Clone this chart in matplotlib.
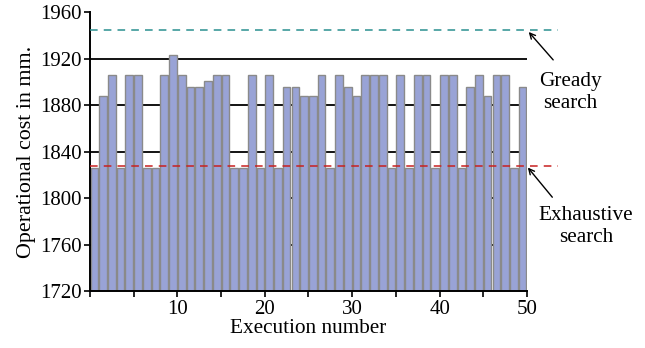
import matplotlib
matplotlib.use("Agg")
import matplotlib.pyplot as plt
import numpy as np

plt.rcParams['font.family'] = ['Liberation Serif', 'DejaVu Serif']

executions = list(range(1, 51))
costs = [1826, 1888, 1906, 1826, 1906, 1906, 1826, 1826, 1906, 1923,
         1906, 1896, 1896, 1901, 1906, 1906, 1826, 1826, 1906, 1826,
         1906, 1826, 1896, 1896, 1888, 1888, 1906, 1826, 1906, 1896,
         1888, 1906, 1906, 1906, 1826, 1906, 1826, 1906, 1906, 1826,
         1906, 1906, 1826, 1896, 1906, 1888, 1906, 1906, 1826, 1896]
greedy_cost = 1945
exhaustive_cost = 1828
y_ticks = [1720, 1760, 1800, 1840, 1880, 1920, 1960]
x_tick_labels = [10, 20, 30, 40, 50]

fig = plt.figure(figsize=(6.45, 3.48), dpi=100)
ax = fig.add_axes([0.1395, 0.1624, 0.6775, 0.8026])

for g in [1760, 1800, 1840, 1880, 1920]:
    ax.axhline(g, color='black', lw=1.3, zorder=0)

x = np.array(executions) - 0.5
ax.bar(x, np.array(costs) - 1720, bottom=1720, width=0.88,
       color='#99a3d6', edgecolor='#8a8a8a', linewidth=1.0, zorder=2)

ax.plot([0, 53.5], [greedy_cost, greedy_cost], color='#2a9090', lw=1.1,
        dashes=(5, 4), clip_on=False, zorder=3)
ax.plot([0, 53.5], [exhaustive_cost, exhaustive_cost], color='#c82020', lw=1.1,
        dashes=(5, 4), clip_on=False, zorder=3)

ax.set_xlim(0, 50)
ax.set_ylim(1720, 1960)
ax.set_yticks(y_ticks)
ax.set_xticks(np.arange(0, 51, 5))
ax.set_xticklabels([str(v) if v in x_tick_labels else '' for v in range(0, 51, 5)])
for s in ['top', 'right']:
    ax.spines[s].set_visible(False)
for s in ['left', 'bottom']:
    ax.spines[s].set_linewidth(1.4)
ax.tick_params(axis='both', direction='out', length=4, width=1.2, labelsize=15, pad=2)
ax.set_xlabel('Execution number', fontsize=15.3, labelpad=0)
ax.set_ylabel('Operational cost in mm.', fontsize=15.8, labelpad=3)

ax.annotate('', xy=(50.2, 1943), xytext=(53.0, 1919), annotation_clip=False,
            arrowprops=dict(arrowstyle='->', color='black', lw=1.0, shrinkA=0, shrinkB=0))
ax.annotate('', xy=(50.1, 1826.5), xytext=(52.9, 1801), annotation_clip=False,
            arrowprops=dict(arrowstyle='->', color='black', lw=1.0, shrinkA=0, shrinkB=0))
ax.text(55.0, 1891, 'Gready\nsearch', ha='center', va='center', fontsize=15.3,
        linespacing=1.2, clip_on=False)
ax.text(56.75, 1775.5, 'Exhaustive\nsearch', ha='center', va='center', fontsize=15.3,
        linespacing=1.2, clip_on=False)

fig.savefig('out.png', dpi=100)
